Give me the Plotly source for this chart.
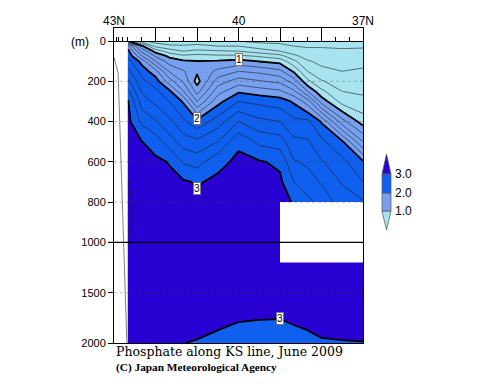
import plotly.graph_objects as go

# ---------------- data ----------------
LAT = [42.667, 42.333, 42.0, 41.667, 41.333, 41.0, 40.5, 40.0, 39.5, 39.0,
       38.667, 38.333, 38.0, 37.5, 37.0]
DEPTH = [0, 25, 50, 75, 100, 150, 200, 250, 300, 400, 500, 600, 700, 800,
         900, 1000, 1200, 1500, 1750, 2000]

# phosphate profiles (umol/kg), one row per station, values at DEPTH
PO4 = [
    [1.02, 1.85, 2.08, 2.17, 2.27, 2.46, 2.65, 2.86, 3.02, 3.06, 3.10, 3.15, 3.21, 3.26, 3.26, 3.21, 3.12, 3.07, 3.05, 3.04],
    [0.45, 1.05, 1.35, 1.62, 1.93, 2.12, 2.25, 2.38, 2.50, 2.76, 3.005, 3.03, 3.05, 3.06, 3.06, 3.06, 3.06, 3.05, 3.05, 3.04],
    [0.30, 0.55, 0.92, 1.18, 1.40, 1.88, 2.10, 2.25, 2.35, 2.62, 2.91, 3.04, 3.05, 3.05, 3.05, 3.05, 3.05, 3.05, 3.05, 3.04],
    [0.25, 0.45, 0.70, 0.96, 1.10, 1.38, 1.70, 2.05, 2.20, 2.45, 2.70, 2.99, 3.045, 3.05, 3.05, 3.05, 3.05, 3.05, 3.05, 3.04],
    [0.30, 0.42, 0.60, 0.85, 1.03, 1.22, 1.38, 1.62, 1.98, 2.25, 2.50, 2.78, 3.03, 3.05, 3.05, 3.05, 3.05, 3.04, 3.03, 3.001],
    [0.30, 0.45, 0.65, 0.88, 1.005, 1.03, 0.92, 1.12, 1.40, 2.06, 2.45, 2.72, 2.98, 3.04, 3.05, 3.05, 3.05, 3.04, 3.03, 2.995],
    [0.25, 0.40, 0.62, 0.85, 1.02, 1.25, 1.50, 1.72, 1.93, 2.30, 2.60, 2.94, 3.045, 3.05, 3.05, 3.05, 3.05, 3.04, 3.03, 2.97],
    [0.20, 0.40, 0.60, 0.85, 1.06, 1.40, 1.70, 1.97, 2.20, 2.60, 2.96, 3.045, 3.05, 3.05, 3.05, 3.05, 3.05, 3.04, 3.01, 2.95],
    [0.15, 0.30, 0.50, 0.78, 0.99, 1.35, 1.62, 1.90, 2.15, 2.45, 2.75, 3.02, 3.04, 3.05, 3.05, 3.05, 3.05, 3.04, 3.005, 2.94],
    [0.15, 0.25, 0.40, 0.68, 0.93, 1.25, 1.55, 1.84, 2.10, 2.40, 2.70, 2.96, 3.04, 3.045, 3.05, 3.05, 3.05, 3.04, 3.003, 2.94],
    [0.15, 0.20, 0.30, 0.45, 0.65, 0.97, 1.30, 1.65, 1.97, 2.25, 2.45, 2.62, 2.80, 2.99, 3.03, 3.04, 3.04, 3.04, 3.02, 2.95],
    [0.15, 0.18, 0.25, 0.32, 0.42, 0.60, 0.85, 1.20, 1.70, 2.25, 2.42, 2.56, 2.70, 2.85, 3.02, 3.04, 3.04, 3.04, 3.03, 2.97],
    [0.15, 0.18, 0.25, 0.30, 0.35, 0.45, 0.62, 0.85, 1.12, 1.98, 2.25, 2.42, 2.58, 2.72, 2.90, 3.01, 3.04, 3.04, 3.04, 2.99],
    [0.15, 0.17, 0.23, 0.30, 0.34, 0.40, 0.50, 0.60, 0.72, 1.28, 2.03, 2.25, 2.38, 2.52, 2.70, 2.92, 3.04, 3.04, 3.04, 2.995],
    [0.15, 0.17, 0.25, 0.32, 0.36, 0.42, 0.50, 0.57, 0.65, 0.90, 1.40, 2.03, 2.20, 2.42, 2.65, 2.90, 3.04, 3.04, 3.04, 2.997],
]

BOUNDS = [1.0, 2.0, 3.0]
BAND_COLORS = ['#a8e4f0', '#78a0f0', '#1060f0', '#2800d2']
CBAR_LABELS = ['1.0', '2.0', '3.0']

MISSING_LAT = [39.0, 37.0]
MISSING_DEPTH = [800, 1200]

SLOPE_LAT = [43.0, 42.9, 42.69]
SLOPE_DEPTH = [80, 160, 2000]

STATION_TICKS = [42.93, 42.88, 42.8, 42.667, 42.333, 42.0, 41.667, 41.333, 41.0,
                 40.667, 40.333, 40.0, 39.667, 39.333, 39.0, 38.667, 38.333,
                 38.0, 37.667, 37.333, 37.0]
XTICKS = [43, 42, 41, 40, 39, 38, 37]
XLABELS = [(43, '43N'), (40, '40'), (37, '37N')]
YTICKS = [0, 200, 400, 600, 800, 1000, 1500, 2000]
GRID_DEPTHS = [200, 400, 600, 800, 1500]

CONTOUR_LABELS = [('1', 40.0, 90), ('2', 41.0, 385), ('3', 41.0, 730), ('3', 39.0, 1756)]

TITLE = 'Phosphate along KS line, June 2009'
CREDIT = '(C) Japan Meteorological Agency'


# ------------- helpers -------------
def yt(d):
    """depth axis: linear to 1000 m, half scale below"""
    return d if d <= 1000 else 1000 + (d - 1000) / 2.0


L, R, T, B = 114, 137, 28, 44
W, H = 500, 387
PW, PH = W - L - R, H - T - B


def PX(x):
    return (x - L) / PW


def PY(y):
    return (H - B - y) / PH


z = [[PO4[j][i] for j in range(len(LAT))] for i in range(len(DEPTH))]
yv = [yt(d) for d in DEPTH]

start, end, size = 0.2, 3.8, 0.2
zlo, zhi = start - size / 2, end + size / 2


def sfrac(v):
    return (v - zlo) / (zhi - zlo)


cs = [[0, BAND_COLORS[0]]]
for k, b in enumerate(BOUNDS):
    s = sfrac(b)
    cs.append([s, BAND_COLORS[k]])
    cs.append([s, BAND_COLORS[k + 1]])
cs.append([1, BAND_COLORS[-1]])

fig = go.Figure()
fig.add_trace(go.Contour(
    x=LAT, y=yv, z=z, zmin=zlo, zmax=zhi, autocontour=False,
    contours=dict(start=start, end=end, size=size, coloring='fill', showlines=True),
    line=dict(color='#1e1e1e', width=0.6, smoothing=0),
    colorscale=cs, showscale=False, hoverinfo='skip'))
fig.add_trace(go.Contour(
    x=LAT, y=yv, z=z, autocontour=False,
    contours=dict(start=1, end=3, size=1, coloring='none', showlines=True),
    line=dict(color='black', width=1.8, smoothing=0),
    showscale=False, hoverinfo='skip'))
fig.add_trace(go.Scatter(
    x=SLOPE_LAT, y=[yt(d) for d in SLOPE_DEPTH], mode='lines', xaxis='x2',
    line=dict(color='#808080', width=1), hoverinfo='skip'))

shapes = []
# missing-data area
shapes.append(dict(type='rect', xref='x', yref='y', x0=MISSING_LAT[0], x1=MISSING_LAT[1],
                   y0=yt(MISSING_DEPTH[0]), y1=yt(MISSING_DEPTH[1]),
                   fillcolor='white', line=dict(width=0), layer='above'))
# faint dotted depth grid
for d in GRID_DEPTHS:
    shapes.append(dict(type='line', xref='paper', yref='y', x0=0, x1=1, y0=yt(d), y1=yt(d),
                       line=dict(color='rgba(70,70,70,0.35)', width=1, dash='dot'), layer='above'))
# axis break at 1000 m
shapes.append(dict(type='line', xref='paper', yref='y', x0=-0.02, x1=1, y0=1000, y1=1000,
                   line=dict(color='black', width=1.3), layer='above'))

# colour bar (manual, with triangular ends)
cx0, cx1 = PX(382), PX(391)
cxm = (cx0 + cx1) / 2
ypix = [230, 211, 193, 174, 154]
outline = dict(color='#606060', width=0.8)
shapes.append(dict(type='path', xref='paper', yref='paper',
                   path=f'M {cx0},{PY(ypix[1])} L {cxm},{PY(ypix[0])} L {cx1},{PY(ypix[1])} Z',
                   fillcolor=BAND_COLORS[0], line=outline))
for k in (1, 2):
    shapes.append(dict(type='rect', xref='paper', yref='paper', x0=cx0, x1=cx1,
                       y0=PY(ypix[k]), y1=PY(ypix[k + 1]),
                       fillcolor=BAND_COLORS[k], line=outline))
shapes.append(dict(type='path', xref='paper', yref='paper',
                   path=f'M {cx0},{PY(ypix[3])} L {cxm},{PY(ypix[4])} L {cx1},{PY(ypix[3])} Z',
                   fillcolor=BAND_COLORS[3], line=outline))

ann = []
for txt, la, d in CONTOUR_LABELS:
    ann.append(dict(x=la, y=yt(d), xref='x', yref='y', text=txt, showarrow=False,
                    font=dict(family='Liberation Sans', size=10, color='black'),
                    bgcolor='white', bordercolor='#777', borderwidth=1, borderpad=0))
for k, lab in enumerate(CBAR_LABELS):
    ann.append(dict(x=PX(393), y=PY(ypix[k + 1]), xref='paper', yref='paper', text=lab,
                    showarrow=False, xanchor='left', yanchor='middle',
                    font=dict(family='Liberation Sans', size=12, color='black')))
for xv, lab in XLABELS:
    ann.append(dict(x=xv, y=PY(21), xref='x', yref='paper', text=lab, showarrow=False,
                    xanchor='center', yanchor='middle',
                    font=dict(family='Liberation Sans', size=12, color='black')))
ann.append(dict(x=PX(80), y=PY(42), xref='paper', yref='paper', text='(m)', showarrow=False,
                xanchor='center', yanchor='middle',
                font=dict(family='Liberation Sans', size=12, color='black')))
ann.append(dict(x=PX(114), y=PY(352), xref='paper', yref='paper', text=TITLE, showarrow=False,
                xanchor='left', yanchor='middle',
                font=dict(family='DejaVu Serif', size=12.5, color='black')))
ann.append(dict(x=PX(114), y=PY(367), xref='paper', yref='paper', text='<b>' + CREDIT + '</b>',
                showarrow=False, xanchor='left', yanchor='middle',
                font=dict(family='Liberation Serif', size=11.3, color='black')))

fig.update_layout(
    width=W, height=H, margin=dict(l=L, r=R, t=T, b=B, autoexpand=False),
    paper_bgcolor='white', plot_bgcolor='white', showlegend=False,
    xaxis=dict(range=[43, 37], side='top', tickvals=XTICKS, showticklabels=False,
               ticks='inside', ticklen=13, tickwidth=1, tickcolor='black',
               showline=True, linecolor='black', linewidth=1, mirror=True,
               showgrid=False, zeroline=False, automargin=False),
    xaxis2=dict(overlaying='x', anchor='free', position=PY(41), side='top', range=[43, 37],
                tickvals=STATION_TICKS, ticks='outside', ticklen=4, tickwidth=1,
                tickcolor='black', showticklabels=False, showline=True,
                linecolor='black', linewidth=1, showgrid=False, zeroline=False,
                automargin=False),
    yaxis=dict(range=[yt(2000), -65], tickvals=[yt(d) for d in YTICKS],
               ticktext=[str(d) for d in YTICKS], ticks='outside', ticklen=5,
               tickcolor='black', showline=True, mirror=True, linecolor='black',
               linewidth=1, showgrid=False, zeroline=False, automargin=False,
               tickfont=dict(family='Liberation Sans', size=11, color='black')),
    shapes=shapes, annotations=ann,
)

fig.write_html('out.html', config={'displayModeBar': False},
               post_script="document.body.style.margin='0px';")
